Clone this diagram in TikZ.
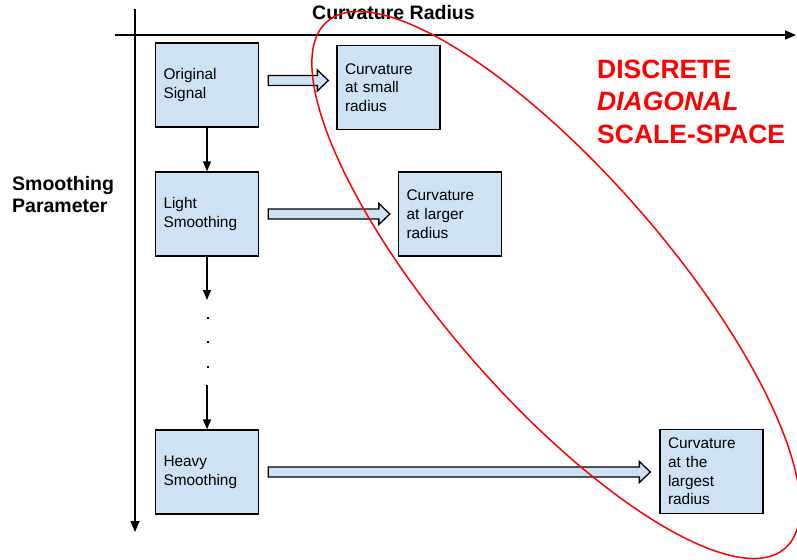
\documentclass[tikz,border=0pt]{standalone}
\usepackage{fontspec}
\setmainfont{Liberation Sans}
\usetikzlibrary{arrows.meta,calc}
\definecolor{boxblue}{HTML}{CFE2F3}
\definecolor{ellred}{HTML}{FF0000}
\begin{document}
\begin{tikzpicture}[x=1pt,y=-1pt,
  box/.style={draw=black, fill=boxblue, line width=1.3pt, minimum height=84pt,
    text width=87pt, inner xsep=8pt, inner ysep=0pt, align=left,
    font=\fontsize{15.4}{18.7}\selectfont},
  conn/.style={line width=1.3pt, -{Triangle[length=10pt,width=8pt]}},
  axisline/.style={line width=1.5pt, -{Triangle[length=11pt,width=9pt]}},
  barrow/.style={draw=black, fill=boxblue, line width=1.3pt, line join=miter},
  axlabel/.style={font=\bfseries\fontsize{19.5}{22.5}\selectfont, inner sep=0pt, align=left},
  redlabel/.style={text=ellred, font=\bfseries\fontsize{26.5}{32.5}\selectfont, inner sep=0pt, align=left},
  ellstyle/.style={draw=ellred, line width=1.5pt}]
\useasboundingbox (0,0) rectangle (797,559);

% axes
\coordinate (vtop) at (135,9);
\coordinate (vbot) at (135,532);
\coordinate (hleft) at (115,35);
\coordinate (hright) at (796,35);
\draw[axisline] (vtop) -- (vbot);
\draw[axisline] (hleft) -- (hright);

% axis labels
\node[axlabel, anchor=base west] (xlab) at (312,20) {Curvature Radius};
\node[axlabel, anchor=west] (ylab) at (12,194.5) {Smoothing\\Parameter};

% boxes
\node[box] (os)  at (207,85)     {Original\\Signal};
\node[box] (cs1) at (388.5,87.5) {Curvature\\at small\\radius};
\node[box] (ls)  at (207,214)    {Light\\Smoothing};
\node[box] (cs2) at (450,214)    {Curvature\\at larger\\radius};
\node[box] (hs)  at (207,472)    {Heavy\\Smoothing};
\node[box] (cs3) at (711.5,471.5) {Curvature\\at the\\largest\\radius};

% vertical connectors
\coordinate (v1) at (207,300);
\coordinate (v2) at (207,385);
\draw[conn] (os) -- (ls);
\draw[conn] (ls.south) -- (v1);
\draw[conn] (v2) -- (hs.north);
\foreach \yy/\nm in {318/d1,342/d2,367/d3}{
  \coordinate (\nm) at (208,\yy);
  \fill (\nm) +(-1.1pt,-1.1pt) rectangle +(1.1pt,1.1pt);
}

% block arrows
\coordinate (a1s) at ($(os.east)+(9,-4.5)$);
\coordinate (a1e) at ($(cs1.west)+(-8,0)$);
\coordinate (a2s) at ($(ls.east)+(9,0)$);
\coordinate (a2e) at ($(cs2.west)+(-8,0)$);
\coordinate (a3s) at ($(hs.east)+(9,0)$);
\coordinate (a3e) at ($(cs3.west)+(-9,0)$);
\foreach \s/\e in {a1s/a1e,a2s/a2e,a3s/a3e}{
  \draw[barrow] let \p1=(\s), \p2=(\e) in
    (\x1,\y1+5pt) -- (\x2-11pt,\y1+5pt) -- (\x2-11pt,\y1+10.5pt) -- (\x2,\y1)
    -- (\x2-11pt,\y1-10.5pt) -- (\x2-11pt,\y1-5pt) -- (\x1,\y1-5pt) -- cycle;
}

% red label
\node[redlabel, anchor=west] (title) at (597,101.5) {DISCRETE\\\textit{DIAGONAL}\\SCALE-SPACE};

% ellipse
\draw[ellstyle, shift={(556,285)}, rotate=-49] (0,0) ellipse [x radius=349pt, y radius=112pt];
\end{tikzpicture}
\end{document}
